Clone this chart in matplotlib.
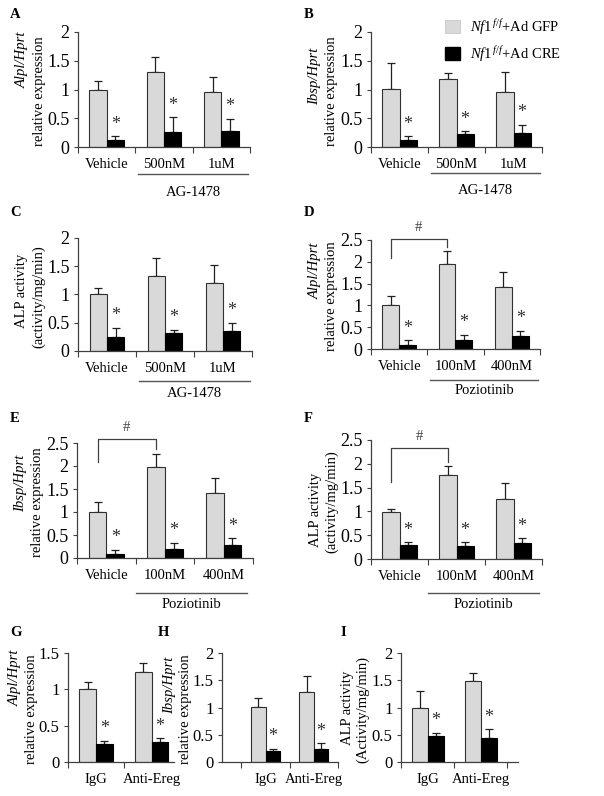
import matplotlib
matplotlib.use('Agg')
import matplotlib.pyplot as plt
from matplotlib.transforms import blended_transform_factory, ScaledTranslation
from matplotlib.patches import Patch

plt.rcParams['font.family'] = ['Liberation Serif', 'DejaVu Serif']
plt.rcParams['mathtext.fontset'] = 'custom'
plt.rcParams['mathtext.rm'] = 'Liberation Serif'
plt.rcParams['mathtext.it'] = 'Liberation Serif:italic'

# ---------------- data ----------------
ag_groups = ['Vehicle', '500nM', '1uM']
poz_groups = ['Vehicle', '100nM', '400nM']
ab_groups = ['IgG', 'Anti-Ereg']

A_gfp = [1.00, 1.31, 0.95]; A_gfp_err = [0.15, 0.25, 0.26]
A_cre = [0.13, 0.26, 0.27]; A_cre_err = [0.06, 0.26, 0.22]

B_gfp = [1.01, 1.18, 0.96]; B_gfp_err = [0.45, 0.10, 0.34]
B_cre = [0.12, 0.23, 0.25]; B_cre_err = [0.07, 0.04, 0.14]

C_gfp = [1.00, 1.33, 1.21]; C_gfp_err = [0.12, 0.32, 0.32]
C_cre = [0.25, 0.32, 0.36]; C_cre_err = [0.16, 0.06, 0.14]

D_gfp = [1.00, 1.95, 1.42]; D_gfp_err = [0.21, 0.29, 0.34]
D_cre = [0.10, 0.20, 0.30]; D_cre_err = [0.10, 0.13, 0.12]

E_gfp = [1.01, 1.97, 1.42]; E_gfp_err = [0.21, 0.29, 0.33]
E_cre = [0.09, 0.20, 0.29]; E_cre_err = [0.09, 0.13, 0.14]

F_gfp = [0.99, 1.77, 1.27]; F_gfp_err = [0.06, 0.19, 0.32]
F_cre = [0.29, 0.27, 0.33]; F_cre_err = [0.06, 0.08, 0.11]

G_gfp = [1.01, 1.24]; G_gfp_err = [0.09, 0.12]
G_cre = [0.25, 0.28]; G_cre_err = [0.04, 0.05]

H_gfp = [1.01, 1.28]; H_gfp_err = [0.16, 0.30]
H_cre = [0.21, 0.24]; H_cre_err = [0.03, 0.10]

I_gfp = [0.99, 1.49]; I_gfp_err = [0.31, 0.15]
I_cre = [0.47, 0.44]; I_cre_err = [0.07, 0.16]

# significance brackets (# marks): left leg bottom, top, right leg bottom, '#' position
D_bracket = [2.09, 2.53, 2.34, 2.78]
E_bracket = [2.09, 2.58, 2.38, 2.83]
F_bracket = [1.62, 2.33, 2.04, 2.57]

legend_labels = [r'$\mathit{Nf1}^{\,\mathit{f/f}}$+Ad GFP', r'$\mathit{Nf1}^{\,\mathit{f/f}}$+Ad CRE']

# ---------------- style ----------------
W, Hh = 604, 796
fig = plt.figure(figsize=(W / 100, Hh / 100), dpi=100)
GRAY = '#d9d9d9'
AXC = '#404040'
BW = 0.3


def add_ax(l, t, r, b):
    return fig.add_axes([l / W, 1 - b / Hh, (r - l) / W, (b - t) / Hh])


def panel(rect, letter, letter_xy, groups, gfp, gfp_err, cre, cre_err,
          ymax, ystep, ylab, xlim, l1_dy=0, lab_dx=(-56, -39), yfs=13,
          underline=None, bracket=None):
    ax = add_ax(*rect)
    n = len(groups)
    xs = list(range(n))
    xg = [x - BW / 2 for x in xs]
    xc = [x + BW / 2 for x in xs]
    ax.bar(xg, gfp, BW, color=GRAY, edgecolor='#303030', linewidth=0.8, zorder=2)
    ax.bar(xc, cre, BW, color='black', edgecolor='black', linewidth=0.8, zorder=2)
    ax.errorbar(xg, gfp, yerr=[[0] * n, gfp_err], fmt='none', ecolor='#202020',
                elinewidth=0.9, capsize=3.2, capthick=0.9, zorder=1)
    ax.errorbar(xc, cre, yerr=[[0] * n, cre_err], fmt='none', ecolor='#202020',
                elinewidth=0.9, capsize=3.2, capthick=0.9, zorder=1)
    for x, v, e in zip(xc, cre, cre_err):
        ax.annotate('*', (x, v + e), xytext=(0, 2.5), textcoords='offset points',
                    ha='center', va='bottom', fontsize=13, color='#303030')
    ax.set_xlim(*xlim)
    ax.set_ylim(0, ymax)
    yt = []
    v = 0.0
    while v <= ymax + 1e-9:
        yt.append(round(v, 2))
        v += ystep
    ax.set_yticks(yt)
    ax.set_yticklabels([('%g' % t) for t in yt], fontsize=yfs)
    ax.set_xticks(xs)
    ax.set_xticklabels(groups, fontsize=10.5)
    ax.tick_params(axis='x', which='major', length=0, pad=8)
    minor = [k + 0.5 for k in range(-1, n) if xlim[0] - 1e-9 <= k + 0.5 <= xlim[1] + 1e-9]
    ax.set_xticks(minor, minor=True)
    ax.tick_params(axis='x', which='minor', length=4, width=0.8, color=AXC, direction='out')
    ax.tick_params(axis='y', length=3, width=0.8, color=AXC, pad=3)
    for s in ['top', 'right']:
        ax.spines[s].set_visible(False)
    for s in ['left', 'bottom']:
        ax.spines[s].set_color(AXC)
        ax.spines[s].set_linewidth(0.9)
    # y label (two lines)
    l, t, r, b = rect
    cy = (t + b) / 2
    line1, it1 = ylab[0]
    fig.text((l + lab_dx[0]) / W, 1 - (cy + l1_dy) / Hh, line1, rotation=90, ha='center',
             va='center', fontsize=10.5, style='italic' if it1 else 'normal')
    fig.text((l + lab_dx[1]) / W, 1 - (cy + 2) / Hh, ylab[1], rotation=90, ha='center',
             va='center', fontsize=10.5)
    fig.text(letter_xy[0] / W, 1 - letter_xy[1] / Hh, letter, fontsize=10.5,
             fontweight='bold', ha='left', va='center')
    if underline is not None:
        name, x0, x1, off_line, off_text = underline
        tr = blended_transform_factory(ax.transData, ax.transAxes)
        tl = tr + ScaledTranslation(0, -off_line / 100, fig.dpi_scale_trans)
        tt = tr + ScaledTranslation(0, -off_text / 100, fig.dpi_scale_trans)
        ax.plot([x0, x1], [0, 0], color='#555555', lw=1.0, transform=tl, clip_on=False)
        ax.text((x0 + x1) / 2, 0, name, transform=tt, ha='center', va='center', fontsize=10.5)
    if bracket is not None:
        yl, ytop, yr, yh = bracket
        ax.plot([xg[0], xg[0], xg[1], xg[1]], [yl, ytop, ytop, yr], color='#404040',
                lw=0.9, clip_on=False)
        ax.text((xg[0] + xg[1]) / 2, yh, '#', ha='center', va='center', fontsize=10.5,
                color='#404040', clip_on=False)
    return ax


gene_alpl = ('Alpl/Hprt', True)
gene_ibsp = ('Ibsp/Hprt', True)
alp = ('ALP activity', False)

panel((78, 32, 250, 147), 'A', (10, 15), ag_groups, A_gfp, A_gfp_err, A_cre, A_cre_err,
      2, 0.5, (gene_alpl, 'relative expression'), (-0.5, 2.5), l1_dy=-30,
      underline=('AG-1478', 0.55, 2.47, 27, 45))
panel((371, 32, 542, 147), 'B', (304, 15), ag_groups, B_gfp, B_gfp_err, B_cre, B_cre_err,
      2, 0.5, (gene_ibsp, 'relative expression'), (-0.5, 2.5), l1_dy=-13,
      underline=('AG-1478', 0.55, 2.47, 26, 44))
panel((78, 238, 252, 351), 'C', (10, 213), ag_groups, C_gfp, C_gfp_err, C_cre, C_cre_err,
      2, 0.5, (alp, '(activity/mg/min)'), (-0.5, 2.5), l1_dy=-4,
      underline=('AG-1478', 0.55, 2.47, 30, 43))
panel((371, 240, 540, 349), 'D', (304, 213), poz_groups, D_gfp, D_gfp_err, D_cre, D_cre_err,
      2.5, 0.5, (gene_alpl, 'relative expression'), (-0.5, 2.5), l1_dy=-24,
      underline=('Poziotinib', 0.55, 2.47, 31, 42), bracket=D_bracket)
panel((77, 443, 253, 558), 'E', (10, 418), poz_groups, E_gfp, E_gfp_err, E_cre, E_cre_err,
      2.5, 0.5, (gene_ibsp, 'relative expression'), (-0.5, 2.5), l1_dy=-17,
      underline=('Poziotinib', 0.5, 2.4, 35, 47), bracket=E_bracket)
panel((371, 440, 542, 559), 'F', (304, 418), poz_groups, F_gfp, F_gfp_err, F_cre, F_cre_err,
      2.5, 0.5, (alp, '(activity/mg/min)'), (-0.5, 2.5), l1_dy=10,
      underline=('Poziotinib', 0.5, 2.45, 34, 46), bracket=F_bracket)
panel((68, 653, 174, 762), 'G', (10, 632), ab_groups, G_gfp, G_gfp_err, G_cre, G_cre_err,
      1.5, 0.5, (gene_alpl, 'relative expression'), (-0.5, 1.4), l1_dy=-30,
      lab_dx=(-53, -37), yfs=12)
panel((222, 653, 338, 762), 'H', (158, 632), ab_groups, H_gfp, H_gfp_err, H_cre, H_cre_err,
      2, 0.5, (gene_ibsp, 'relative expression'), (-0.9, 1.5), l1_dy=-22,
      lab_dx=(-52, -36), yfs=12)
panel((401, 653, 518, 762), 'I', (340, 632), ab_groups, I_gfp, I_gfp_err, I_cre, I_cre_err,
      2, 0.5, (alp, '(Activity/mg/min)'), (-0.5, 1.7), l1_dy=0,
      lab_dx=(-53, -38), yfs=12)

handles = [Patch(facecolor=GRAY, edgecolor='#c8c8c8', linewidth=0.6),
           Patch(facecolor='black', edgecolor='black')]
fig.legend(handles, legend_labels, loc='upper left', bbox_to_anchor=(435 / W, 1 - 7 / Hh),
           frameon=False, fontsize=10.5, handlelength=1.0, handleheight=1.0,
           handletextpad=0.7, labelspacing=0.5, borderpad=0.2)

fig.savefig('out.png', dpi=100)
